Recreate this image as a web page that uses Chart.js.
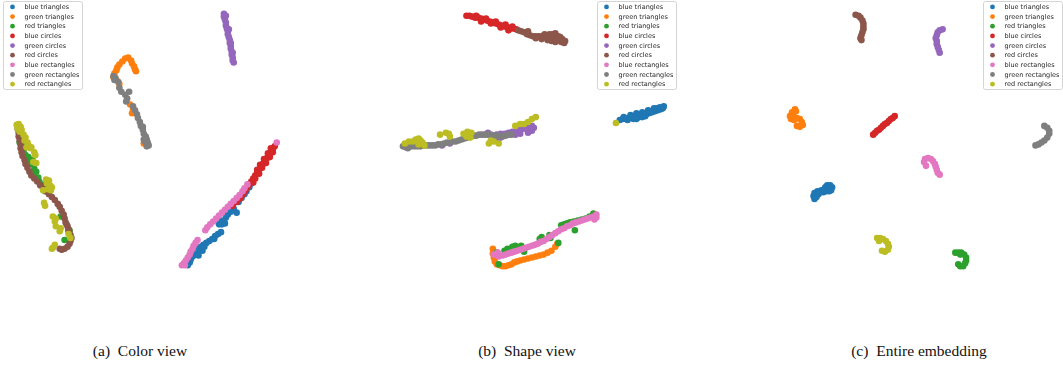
<!DOCTYPE html>
<html>
<head>
<meta charset="utf-8">
<script src="https://cdn.jsdelivr.net/npm/chart.js@4.4.0/dist/chart.umd.min.js"></script>
<style>
  body { margin: 0; background: #fff; width: 1063px; height: 371px; overflow: hidden; position: relative; }
  canvas { position: absolute; top: 0; }
  .caption { position: absolute; top: 342px; font-family: "Liberation Serif", "DejaVu Serif", serif; font-size: 15.5px; color: #111; white-space: nowrap; transform: translateX(-50%); }
</style>
</head>
<body>
<canvas id="viewA" width="355" height="320" style="left:0px"></canvas>
<canvas id="viewB" width="345" height="320" style="left:355px"></canvas>
<canvas id="viewC" width="363" height="320" style="left:700px"></canvas>
<div class="caption" style="left:140px">(a)&nbsp; Color view</div>
<div class="caption" style="left:527px">(b)&nbsp; Shape view</div>
<div class="caption" style="left:919px">(c)&nbsp; Entire embedding</div>
<script>
// series names and colours (matplotlib tab10 order)
const seriesLabels = ['blue triangles', 'green triangles', 'red triangles', 'blue circles', 'green circles',
    'red circles', 'blue rectangles', 'green rectangles', 'red rectangles'];
const seriesColors = ['#1f77b4', '#ff7f0e', '#2ca02c', '#d62728', '#9467bd', '#8c564b', '#e377c2', '#7f7f7f', '#bcbd22'];

// (a) colour view - embedding points
const aBlueTriangles = [[253,184],[251,188],[248,192],[246,195],[243,199],[240,203],[238,214],[235,210],[232,213],[229,216],[227,219],[225,222],[221,222],[223,226],[220,226],[222,234],[219,236],[216,238],[213,241],[210,243],[207,245],[204,247],[201,249],[200,252],[203,253],[198,255],[196,257],[193,259],[191,262],[190,265],[188,268],[194,255],[197,251],[205,249],[199,258],[215,241],[226,225]];
const aGreenTriangles = [[127,55],[124,56],[121,59],[118,62],[116,65],[115,68],[113,71],[112,75],[115,78],[118,82],[130,58],[131,61],[133,64],[134,67],[135,69],[129,103],[132,108],[131,112],[143,143]];
const aRedTriangles = [[16,142],[19,145],[22,147],[20,152],[22,155],[25,157],[23,161],[27,164],[31,169],[33,172],[30,174],[35,178],[36,182],[38,185],[41,187],[43,188],[42,192],[58,218],[67,232],[62,242],[29,160]];
const aBlueCircles = [[277,146],[275,149],[273,152],[271,155],[269,158],[267,161],[265,164],[263,167],[261,170],[259,173],[257,176],[255,179],[253,182],[251,185],[249,188],[247,191],[245,194],[243,197],[241,200],[238,203],[234,207],[275,152],[272,157],[268,163],[264,168],[261,174],[257,179],[270,153],[266,159],[262,165],[259,170],[273,148],[255,183]];
const aGreenCircles = [[225,10],[225,13],[226,16],[227,19],[227,22],[228,25],[229,28],[229,31],[230,34],[231,37],[231,40],[232,43],[232,46],[233,49],[233,52],[234,55],[234,58],[235,60],[227,12],[230,26],[232,40],[234,50]];
const aRedCircles = [[14,128],[15,132],[15,136],[16,140],[17,144],[17,148],[18,152],[19,156],[21,160],[22,164],[24,168],[26,172],[28,176],[31,179],[34,182],[37,186],[40,189],[43,192],[46,195],[49,198],[52,201],[55,205],[57,208],[59,212],[61,216],[62,220],[63,224],[65,228],[66,231],[67,234],[68,237],[69,240],[68,243],[67,246],[65,249],[62,251],[59,252],[57,251],[64,226],[66,233]];
const aBlueRectangles = [[279,142],[249,185],[246,189],[244,192],[241,196],[238,199],[235,202],[232,205],[229,208],[226,211],[223,214],[220,217],[217,220],[214,223],[211,226],[208,229],[206,232],[198,242],[196,245],[194,248],[193,251],[191,254],[190,257],[188,260],[186,263],[184,266],[182,268],[185,268]];
const aGreenRectangles = [[112,74],[114,76],[113,78],[117,80],[118,86],[120,90],[124,93],[128,90],[126,97],[125,100],[132,105],[134,109],[136,113],[137,117],[139,121],[140,125],[142,129],[143,133],[145,136],[146,139],[147,142],[148,145],[146,146],[143,139],[142,126],[144,141]];
const aRedRectangles = [[13,124],[15,123],[17,126],[14,128],[18,129],[16,131],[20,134],[22,137],[21,140],[24,142],[25,145],[27,148],[23,147],[28,147],[31,152],[32,155],[30,162],[33,163],[43,180],[46,181],[44,184],[47,186],[49,188],[48,191],[45,190],[40,191],[42,207],[41,204],[50,218],[53,220],[52,223],[53,228],[58,230],[57,233],[66,236],[68,240],[52,247],[50,250],[49,251]];

// (b) shape view
const bBlueTriangles = [[622,119],[625,118],[628,118],[631,117],[634,116],[637,116],[640,115],[643,114],[646,114],[649,113],[652,112],[655,111],[658,110],[661,109],[664,108],[666,107],[630,119],[636,118],[642,116],[648,115],[654,110],[660,107],[663,106],[626,116],[633,114],[639,112],[645,111],[651,109],[657,107],[645,116],[639,118],[667,105]];
const bGreenTriangles = [[492,251],[492,256],[493,260],[494,264],[496,267],[499,268],[502,269],[505,269],[508,268],[511,267],[514,265],[517,264],[520,263],[524,262],[528,261],[532,260],[536,259],[540,258],[544,257],[548,255],[552,253],[556,249],[558,246]];
const bRedTriangles = [[498,267],[504,253],[507,251],[512,249],[515,248],[521,248],[523,251],[524,254],[540,241],[542,239],[550,237],[551,240],[562,227],[565,226],[568,225],[571,224],[575,223],[579,222],[583,221],[587,220],[591,218],[595,215],[576,232],[559,245],[496,255]];
const bBlueCircles = [[465,12],[468,12],[471,13],[474,14],[477,14],[480,15],[483,16],[486,17],[489,18],[492,19],[495,20],[498,21],[501,22],[504,23],[507,24],[510,25],[513,25],[516,26],[475,12],[485,15],[495,18],[505,21],[512,23],[480,18],[490,20],[500,24],[508,27]];
const bGreenCircles = [[440,145],[448,143],[487,132],[494,136],[497,139],[500,133],[504,133],[508,132],[512,131],[516,130],[520,129],[524,128],[528,127],[532,125],[534,127],[532,130],[528,132],[520,133],[515,134],[496,134],[500,137]];
const bRedCircles = [[518,27],[521,28],[524,29],[527,31],[530,32],[533,33],[536,33],[539,33],[542,33],[545,34],[548,35],[551,34],[554,33],[556,35],[559,37],[562,39],[565,40],[563,36],[559,33],[553,31],[548,37],[552,38],[556,39],[545,31],[528,28],[550,31],[556,30],[561,34],[566,38],[542,36],[536,35]];
const bBlueRectangles = [[493,257],[497,255],[498,259],[502,258],[505,257],[508,256],[511,255],[514,254],[517,253],[520,252],[523,251],[526,250],[529,249],[532,248],[535,247],[538,246],[541,244],[544,243],[547,241],[550,239],[553,237],[556,235],[559,233],[562,231],[565,230],[568,228],[571,227],[574,225],[577,224],[580,223],[583,222],[586,221],[589,220],[592,219],[595,218],[598,216],[598,219],[596,221]];
const bGreenRectangles = [[400,146],[403,147],[406,146],[409,146],[412,146],[415,146],[418,146],[421,145],[424,145],[427,145],[430,145],[433,145],[436,144],[439,144],[442,143],[445,142],[448,142],[451,141],[454,141],[457,140],[460,139],[463,138],[466,137],[469,136],[472,135],[475,135],[478,134],[481,134],[484,134],[487,134],[490,134],[493,135],[496,135],[499,135],[502,136],[505,135],[508,134],[511,134],[402,144],[405,148]];
const bRedRectangles = [[618,122],[402,143],[406,141],[410,141],[413,139],[416,138],[418,140],[420,142],[422,145],[416,144],[438,134],[444,132],[447,133],[448,136],[462,133],[465,136],[469,137],[488,143],[490,140],[493,141],[498,143],[515,125],[520,123],[524,123],[528,121],[532,118],[536,116],[466,131],[470,132]];

// (c) entire embedding
const cBlueTriangles = [[813,200],[812,197],[813,194],[816,192],[819,193],[822,193],[825,192],[828,192],[830,191],[831,188],[829,186],[826,186],[824,188],[820,191],[817,195],[815,198]];
const cGreenTriangles = [[793,108],[790,111],[788,115],[789,118],[792,119],[795,117],[798,118],[800,121],[801,124],[798,126],[795,125],[791,113],[794,110]];
const cRedTriangles = [[957,255],[960,255],[963,255],[966,257],[968,260],[968,263],[967,266],[965,269],[962,269],[960,267],[962,257]];
const cBlueCircles = [[873,134],[875,132],[877,130],[879,129],[881,127],[883,125],[885,123],[887,122],[889,120],[891,118],[893,117],[895,115]];
const cGreenCircles = [[944,26],[941,27],[939,29],[938,32],[937,35],[938,38],[938,41],[939,44],[940,47],[941,50]];
const cRedCircles = [[855,11],[858,12],[860,14],[862,17],[863,20],[863,23],[863,26],[862,29],[861,32],[860,35],[861,37]];
const cBlueRectangles = [[925,162],[926,159],[929,158],[932,159],[934,161],[936,164],[937,167],[938,170],[939,173],[941,175],[927,166]];
const cGreenRectangles = [[1048,125],[1051,127],[1053,130],[1053,133],[1051,137],[1048,140],[1045,142],[1042,144],[1039,145]];
const cRedRectangles = [[877,240],[880,240],[883,241],[886,243],[888,246],[889,249],[888,252],[885,254],[882,253],[879,243]];

// legend box drawn like the matplotlib frame
const legendBoxPlugin = {
    id: 'legendBox',
    afterDraw(chart, args, opts) {
        const ctx = chart.ctx;
        const x = opts.x, y = 1, w = 79, h = 88;
        ctx.save();
        ctx.fillStyle = 'rgba(255,255,255,0.8)';
        ctx.strokeStyle = '#d4d4d4';
        ctx.lineWidth = 1;
        ctx.beginPath();
        ctx.roundRect(x + 0.5, y + 0.5, w, h, 2);
        ctx.fill();
        ctx.stroke();
        ctx.font = '6.5px "DejaVu Sans"';
        ctx.textBaseline = 'middle';
        seriesLabels.forEach((label, i) => {
            const cy = y + 5.9 + i * 9.66;
            ctx.fillStyle = seriesColors[i];
            ctx.beginPath();
            ctx.arc(x + 9.5, cy, 2.4, 0, Math.PI * 2);
            ctx.fill();
            ctx.fillStyle = '#262626';
            ctx.fillText(label, x + 21.5, cy + 0.3);
        });
        ctx.restore();
    }
};

function makeView(id, left, right, series, legendX) {
    const datasets = series.map((pts, i) => ({
        label: seriesLabels[i],
        data: pts.map(p => ({ x: p[0], y: p[1] })),
        backgroundColor: seriesColors[i],
        borderWidth: 0,
        pointRadius: 3.3,
        order: series.length - i, // later series on top, like matplotlib
        clip: false
    }));
    return new Chart(document.getElementById(id), {
        type: 'scatter',
        data: { datasets },
        options: {
            responsive: false,
            animation: false,
            devicePixelRatio: 1,
            layout: { padding: 0 },
            scales: {
                x: { type: 'linear', min: left, max: right, display: false },
                y: { type: 'linear', min: 0, max: 320, reverse: true, display: false }
            },
            plugins: {
                legend: { display: false },
                tooltip: { enabled: false },
                legendBox: { x: legendX - left }
            }
        },
        plugins: [legendBoxPlugin]
    });
}

makeView('viewA', 0, 355, [aBlueTriangles, aGreenTriangles, aRedTriangles, aBlueCircles, aGreenCircles,
    aRedCircles, aBlueRectangles, aGreenRectangles, aRedRectangles], 3);
makeView('viewB', 355, 700, [bBlueTriangles, bGreenTriangles, bRedTriangles, bBlueCircles, bGreenCircles,
    bRedCircles, bBlueRectangles, bGreenRectangles, bRedRectangles], 597);
makeView('viewC', 700, 1063, [cBlueTriangles, cGreenTriangles, cRedTriangles, cBlueCircles, cGreenCircles,
    cRedCircles, cBlueRectangles, cGreenRectangles, cRedRectangles], 983);
</script>
</body>
</html>
